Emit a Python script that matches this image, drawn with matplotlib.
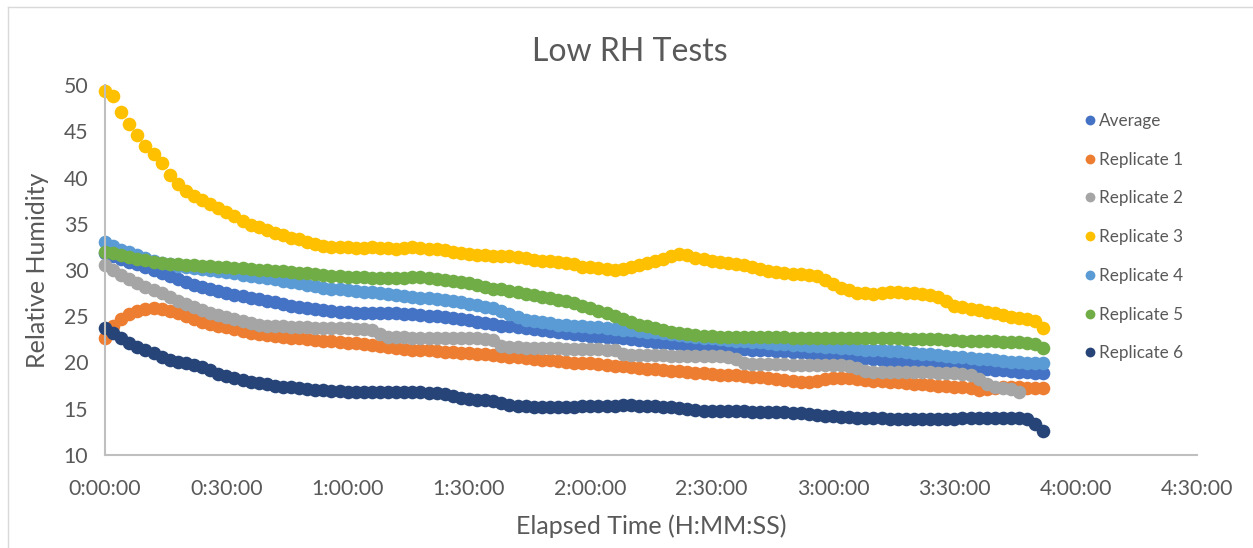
import numpy as np
import matplotlib
matplotlib.use("Agg")
import matplotlib.pyplot as plt
from matplotlib.ticker import FuncFormatter, MultipleLocator
from matplotlib.lines import Line2D

plt.rcParams['font.family'] = ['Lato', 'DejaVu Sans']

# readings every 2 minutes (minutes since start)
t_full = np.arange(0, 233, 2)
t_rep2 = np.arange(0, 227, 2)

average = [
    31.8, 31.5, 31.2, 30.9, 30.6, 30.3, 30.0, 29.7, 29.3, 29.0,
    28.7, 28.4, 28.2, 27.9, 27.7, 27.5, 27.3, 27.2, 27.0, 26.9,
    26.7, 26.5, 26.3, 26.1, 26.0, 25.9, 25.8, 25.7, 25.6, 25.5,
    25.5, 25.4, 25.4, 25.4, 25.3, 25.3, 25.3, 25.2, 25.2, 25.1,
    25.0, 25.0, 24.9, 24.8, 24.7, 24.6, 24.4, 24.3, 24.2, 24.0,
    23.9, 23.8, 23.7, 23.6, 23.5, 23.4, 23.3, 23.2, 23.1, 23.0,
    22.9, 22.8, 22.8, 22.7, 22.6, 22.5, 22.4, 22.3, 22.2, 22.1,
    22.1, 22.0, 21.9, 21.9, 21.8, 21.7, 21.7, 21.6, 21.5, 21.5,
    21.4, 21.3, 21.3, 21.2, 21.2, 21.1, 21.1, 21.0, 20.9, 20.9,
    20.8, 20.7, 20.6, 20.5, 20.5, 20.4, 20.3, 20.2, 20.1, 20.0,
    19.9, 19.9, 19.8, 19.7, 19.6, 19.6, 19.5, 19.4, 19.4, 19.3,
    19.2, 19.2, 19.1, 19.0, 19.0, 18.9, 18.9]

rep1 = [
    22.6, 23.9, 24.7, 25.2, 25.6, 25.8, 25.9, 25.8, 25.6, 25.3,
    25.0, 24.7, 24.4, 24.2, 24.0, 23.8, 23.6, 23.4, 23.2, 23.1,
    23.0, 22.9, 22.8, 22.7, 22.6, 22.5, 22.4, 22.3, 22.3, 22.2,
    22.1, 22.1, 22.0, 21.9, 21.8, 21.7, 21.6, 21.5, 21.4, 21.3,
    21.3, 21.2, 21.1, 21.1, 21.0, 21.0, 20.9, 20.9, 20.8, 20.7,
    20.6, 20.6, 20.5, 20.4, 20.3, 20.3, 20.2, 20.1, 20.0, 19.9,
    19.9, 19.8, 19.7, 19.6, 19.6, 19.5, 19.4, 19.3, 19.3, 19.2,
    19.1, 19.1, 19.0, 18.9, 18.9, 18.8, 18.7, 18.6, 18.6, 18.5,
    18.4, 18.4, 18.3, 18.2, 18.1, 18.0, 17.9, 17.9, 18.0, 18.2,
    18.3, 18.3, 18.3, 18.2, 18.1, 18.0, 18.0, 17.9, 17.9, 17.8,
    17.7, 17.7, 17.6, 17.5, 17.5, 17.4, 17.3, 17.2, 17.0, 17.1,
    17.2, 17.3, 17.3, 17.3, 17.2, 17.2, 17.2]

rep2 = [
    30.5, 30.0, 29.5, 29.0, 28.6, 28.2, 27.8, 27.5, 27.1, 26.7,
    26.3, 26.0, 25.7, 25.4, 25.1, 24.9, 24.7, 24.5, 24.3, 24.1,
    24.0, 23.9, 23.9, 23.8, 23.8, 23.8, 23.7, 23.7, 23.7, 23.7,
    23.7, 23.6, 23.6, 23.5, 23.1, 22.8, 22.8, 22.8, 22.7, 22.7,
    22.7, 22.7, 22.6, 22.6, 22.6, 22.6, 22.6, 22.5, 22.4, 21.8,
    21.7, 21.7, 21.6, 21.6, 21.6, 21.6, 21.6, 21.5, 21.5, 21.5,
    21.5, 21.5, 21.4, 21.3, 20.9, 20.8, 20.8, 20.8, 20.8, 20.8,
    20.7, 20.7, 20.7, 20.7, 20.7, 20.7, 20.7, 20.6, 20.4, 19.9,
    19.8, 19.8, 19.8, 19.8, 19.8, 19.7, 19.7, 19.7, 19.7, 19.7,
    19.7, 19.7, 19.6, 19.4, 19.1, 19.0, 19.0, 19.0, 19.0, 19.0,
    19.0, 19.0, 19.0, 18.9, 18.9, 18.9, 18.8, 18.6, 18.2, 17.7,
    17.4, 17.2, 17.1, 16.8]

rep3 = [
    49.3, 48.8, 47.1, 45.8, 44.6, 43.4, 42.5, 41.6, 40.3, 39.3,
    38.5, 38.0, 37.6, 37.1, 36.7, 36.3, 35.8, 35.3, 34.9, 34.6,
    34.3, 34.0, 33.8, 33.5, 33.3, 33.0, 32.8, 32.6, 32.5, 32.5,
    32.5, 32.4, 32.4, 32.5, 32.4, 32.4, 32.3, 32.4, 32.5, 32.4,
    32.3, 32.3, 32.2, 32.0, 31.8, 31.7, 31.6, 31.6, 31.5, 31.5,
    31.5, 31.4, 31.3, 31.1, 31.0, 31.0, 30.9, 30.8, 30.6, 30.3,
    30.3, 30.2, 30.1, 30.0, 30.1, 30.3, 30.5, 30.8, 31.0, 31.2,
    31.5, 31.7, 31.6, 31.3, 31.2, 31.0, 30.9, 30.8, 30.7, 30.5,
    30.3, 30.1, 29.9, 29.8, 29.7, 29.6, 29.6, 29.5, 29.3, 28.9,
    28.5, 28.1, 27.8, 27.5, 27.5, 27.4, 27.5, 27.6, 27.6, 27.5,
    27.5, 27.4, 27.3, 27.1, 26.6, 26.1, 26.0, 25.8, 25.7, 25.5,
    25.3, 25.1, 24.9, 24.8, 24.7, 24.5, 23.7]

rep4 = [
    33.0, 32.6, 32.2, 31.9, 31.6, 31.3, 31.0, 30.8, 30.6, 30.4,
    30.3, 30.2, 30.1, 30.0, 29.9, 29.8, 29.7, 29.5, 29.4, 29.2,
    29.1, 29.0, 28.8, 28.7, 28.6, 28.4, 28.3, 28.1, 28.0, 27.9,
    27.8, 27.7, 27.6, 27.6, 27.5, 27.4, 27.3, 27.2, 27.1, 27.0,
    27.0, 26.9, 26.8, 26.6, 26.5, 26.3, 26.2, 26.0, 25.9, 25.6,
    25.2, 24.9, 24.6, 24.5, 24.4, 24.3, 24.1, 24.1, 24.0, 23.9,
    23.8, 23.8, 23.7, 23.6, 23.5, 23.5, 23.4, 23.3, 23.3, 23.2,
    23.1, 23.0, 22.9, 22.8, 22.7, 22.6, 22.5, 22.4, 22.3, 22.3,
    22.2, 22.2, 22.1, 22.0, 22.0, 21.9, 21.9, 21.8, 21.8, 21.7,
    21.7, 21.6, 21.6, 21.5, 21.4, 21.4, 21.3, 21.2, 21.2, 21.1,
    21.0, 20.9, 20.9, 20.8, 20.7, 20.6, 20.6, 20.5, 20.4, 20.4,
    20.3, 20.2, 20.1, 20.1, 20.0, 20.0, 19.9]

rep5 = [
    32.0, 31.8, 31.6, 31.4, 31.2, 31.1, 30.9, 30.8, 30.7, 30.6,
    30.5, 30.5, 30.4, 30.4, 30.3, 30.3, 30.2, 30.2, 30.1, 30.0,
    30.0, 29.9, 29.9, 29.8, 29.7, 29.7, 29.6, 29.5, 29.4, 29.3,
    29.2, 29.2, 29.2, 29.1, 29.1, 29.1, 29.1, 29.1, 29.2, 29.2,
    29.1, 29.0, 28.9, 28.8, 28.7, 28.6, 28.4, 28.2, 28.0, 27.9,
    27.7, 27.6, 27.4, 27.3, 27.1, 27.0, 26.8, 26.6, 26.4, 26.1,
    25.9, 25.6, 25.3, 25.0, 24.7, 24.4, 24.1, 23.9, 23.7, 23.5,
    23.3, 23.2, 23.1, 23.0, 22.9, 22.9, 22.8, 22.8, 22.8, 22.8,
    22.8, 22.8, 22.8, 22.8, 22.8, 22.7, 22.7, 22.7, 22.7, 22.7,
    22.7, 22.6, 22.6, 22.6, 22.6, 22.6, 22.6, 22.6, 22.6, 22.5,
    22.5, 22.5, 22.5, 22.5, 22.4, 22.4, 22.3, 22.3, 22.3, 22.3,
    22.3, 22.2, 22.2, 22.2, 22.1, 22.0, 21.6]

rep6 = [
    23.7, 23.2, 22.6, 22.1, 21.7, 21.3, 21.0, 20.6, 20.3, 20.1,
    19.9, 19.7, 19.5, 19.2, 18.8, 18.5, 18.3, 18.1, 17.9, 17.8,
    17.7, 17.5, 17.4, 17.3, 17.2, 17.1, 17.0, 17.0, 16.9, 16.9,
    16.8, 16.8, 16.8, 16.8, 16.8, 16.8, 16.8, 16.8, 16.8, 16.8,
    16.7, 16.7, 16.6, 16.4, 16.2, 16.1, 16.0, 15.9, 15.8, 15.6,
    15.4, 15.3, 15.3, 15.2, 15.2, 15.2, 15.2, 15.2, 15.2, 15.3,
    15.3, 15.3, 15.3, 15.3, 15.4, 15.4, 15.3, 15.3, 15.3, 15.2,
    15.2, 15.1, 15.0, 14.9, 14.8, 14.8, 14.8, 14.8, 14.8, 14.8,
    14.7, 14.7, 14.7, 14.6, 14.6, 14.5, 14.5, 14.4, 14.3, 14.2,
    14.2, 14.1, 14.1, 14.0, 14.0, 14.0, 14.0, 13.9, 13.9, 13.9,
    13.9, 13.9, 13.9, 13.9, 13.9, 13.9, 14.0, 14.0, 14.0, 14.0,
    14.0, 14.0, 14.0, 14.0, 13.9, 13.3, 12.6]

series = [
    ("Average", t_full, average, "#4472C4"),
    ("Replicate 1", t_full, rep1, "#ED7D31"),
    ("Replicate 2", t_rep2, rep2, "#A5A5A5"),
    ("Replicate 3", t_full, rep3, "#FFC000"),
    ("Replicate 4", t_full, rep4, "#5B9BD5"),
    ("Replicate 5", t_full, rep5, "#70AD47"),
    ("Replicate 6", t_full, rep6, "#264478"),
]

txt = "#595959"
axis_col = "#BFBFBF"

fig = plt.figure(figsize=(12.53, 5.48), dpi=100)
ax = fig.add_axes([105 / 1253, 1 - 455 / 548, 1092 / 1253, 370 / 548])

for name, t, y, c in series:
    ax.plot(t, y, ls="none", marker="o", ms=9.8, mew=0, color=c,
            label=name, clip_on=False)


def hms(v, pos):
    v = int(round(v))
    return "%d:%02d:00" % (v // 60, v % 60)


ax.set_xlim(0, 270)
ax.set_ylim(10, 50)
ax.xaxis.set_major_locator(MultipleLocator(30))
ax.yaxis.set_major_locator(MultipleLocator(5))
ax.xaxis.set_major_formatter(FuncFormatter(hms))

for s in ["top", "right"]:
    ax.spines[s].set_visible(False)
for s in ["left", "bottom"]:
    ax.spines[s].set_color(axis_col)
    ax.spines[s].set_linewidth(1.5)

ax.tick_params(axis="both", length=0, labelsize=15.3, colors=txt)
ax.tick_params(axis="x", pad=17)
ax.tick_params(axis="y", pad=12)

ax.set_xlabel("Elapsed Time (H:MM:SS)", fontsize=18, color=txt)
ax.set_ylabel("Relative Humidity", fontsize=18, color=txt)
ax.xaxis.set_label_coords(0.5, -0.16)
ax.yaxis.set_label_coords(-0.051, 0.5)

fig.text(0.503, 1 - 52 / 548, "Low RH Tests", ha="center", va="center",
         fontsize=23, color=txt)

fig.legend(loc="upper left", bbox_to_anchor=(1086 / 1253, 1 - 113 / 548),
           frameon=False, fontsize=12.3, labelcolor=txt, markerscale=0.72,
           handlelength=0.5, handletextpad=0.25, labelspacing=1.33,
           borderpad=0, borderaxespad=0)

# chart border (top and left edges only)
fig.add_artist(Line2D([8 / 1253, 1], [1 - 7 / 548, 1 - 7 / 548],
                      transform=fig.transFigure, color="#D9D9D9", lw=1))
fig.add_artist(Line2D([8 / 1253, 8 / 1253], [0, 1 - 7 / 548],
                      transform=fig.transFigure, color="#D9D9D9", lw=1))

fig.savefig("out.png", dpi=100)
